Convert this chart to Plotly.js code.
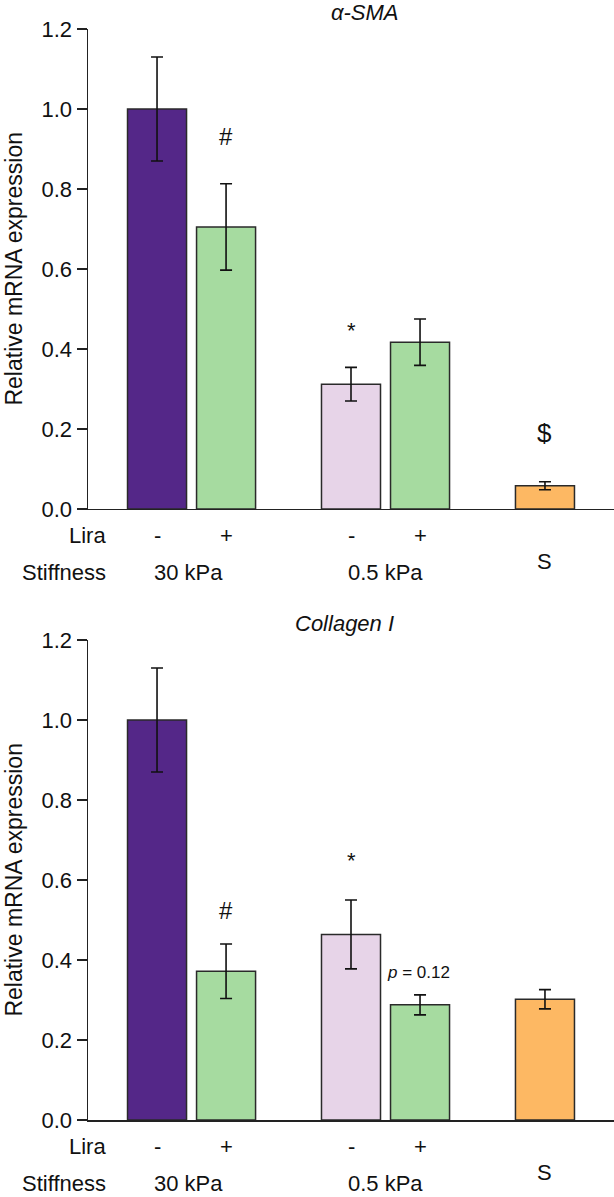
<!DOCTYPE html>
<html>
<head>
<meta charset="utf-8">
<script src="https://cdn.plot.ly/plotly-3.0.1.min.js"></script>
<style>
  body { margin: 0; background: #fff; }
  #myDiv { width: 614px; height: 1197px; }
</style>
</head>
<body>
<div id="myDiv"></div>
<script>
// ---------------------- DATA ----------------------
var groups = ['30 kPa -', '30 kPa +', '0.5 kPa -', '0.5 kPa +', 'S'];
var liraSigns = ['-', '+', '-', '+', ''];
var stiffnessLabels = ['30 kPa', '0.5 kPa', 'S'];

var smaValues = [1.0, 0.705, 0.312, 0.417, 0.058];
var smaErrors = [0.13, 0.108, 0.042, 0.058, 0.01];

var colValues = [1.0, 0.372, 0.464, 0.288, 0.302];
var colErrors = [0.13, 0.068, 0.086, 0.025, 0.024];

var barColors = ['#542788', '#a6dba0', '#e7d4e8', '#a6dba0', '#fdb863'];

// bar centres on a numeric x axis (layout only)
var barPos = [1, 2, 3.81, 4.81, 6.62];
var font = 'Liberation Sans, Arial, sans-serif';

function barTrace(values, errors, xa, ya){
  return {
    type: 'bar',
    x: barPos,
    y: values,
    hovertext: groups,
    hoverinfo: 'text+y',
    width: 0.855,
    xaxis: xa,
    yaxis: ya,
    showlegend: false,
    marker: {
      color: barColors,
      line: {color: '#2a2a2a', width: 1.5}
    },
    error_y: {
      type: 'data',
      array: errors,
      visible: true,
      color: '#111111',
      thickness: 1.6,
      width: 6
    }
  };
}

function yAxis(domain, anchor){
  return {
    domain: domain,
    anchor: anchor,
    range: [0, 1.2],
    dtick: 0.2,
    tickformat: '.1f',
    ticks: 'outside',
    ticklen: 10,
    tickwidth: 1.5,
    tickcolor: '#222',
    showline: true,
    linecolor: '#222',
    linewidth: 1.5,
    showgrid: false,
    zeroline: false,
    tickfont: {family: font, size: 22, color: '#111'},
    fixedrange: true
  };
}

function xAxis(anchor){
  return {
    anchor: anchor,
    range: [0, 7.62],
    showline: true,
    linecolor: '#222',
    linewidth: 1.5,
    showticklabels: false,
    ticks: '',
    showgrid: false,
    zeroline: false,
    fixedrange: true
  };
}

// annotations for one panel (rows below the axis use domain fractions)
function panelNotes(xr, yr, title, titleX, marks){
  var notes = [];
  var f = {family: font, size: 22, color: '#111'};
  var yd = yr + ' domain';
  var liraY = -0.056, stiffY = -0.133, sY = -0.109;
  for (var i = 0; i < liraSigns.length; i++) {
    if (!liraSigns[i]) continue;
    notes.push({xref: xr, yref: yd, x: barPos[i], y: liraY, text: liraSigns[i],
      showarrow: false, font: f, xanchor: 'center', yanchor: 'middle'});
  }
  notes.push({xref: xr + ' domain', yref: yd, x: 0.038, y: liraY, text: 'Lira',
    showarrow: false, font: f, xanchor: 'right', yanchor: 'middle'});
  notes.push({xref: xr + ' domain', yref: yd, x: 0.038, y: stiffY, text: 'Stiffness',
    showarrow: false, font: f, xanchor: 'right', yanchor: 'middle'});
  notes.push({xref: xr, yref: yd, x: (barPos[0] + barPos[1]) / 2 - 0.05, y: stiffY, text: stiffnessLabels[0],
    showarrow: false, font: f, xanchor: 'center', yanchor: 'middle'});
  notes.push({xref: xr, yref: yd, x: (barPos[2] + barPos[3]) / 2, y: stiffY, text: stiffnessLabels[1],
    showarrow: false, font: f, xanchor: 'center', yanchor: 'middle'});
  notes.push({xref: xr, yref: yd, x: barPos[4], y: sY, text: stiffnessLabels[2],
    showarrow: false, font: f, xanchor: 'center', yanchor: 'middle'});
  // y title
  notes.push({xref: xr + ' domain', yref: yd, x: -0.1415, y: 0.5,
    text: 'Relative mRNA expression', textangle: -90, showarrow: false,
    font: {family: font, size: 23, color: '#111'}, xanchor: 'center', yanchor: 'middle'});
  // panel title
  notes.push({xref: 'paper', yref: yd, x: titleX, y: 1.035, text: '<i>' + title + '</i>',
    showarrow: false, font: {family: font, size: 22, color: '#111'}, xanchor: 'center', yanchor: 'middle'});
  // significance marks
  marks.forEach(function(m){
    notes.push({xref: xr, yref: yr, x: barPos[m[0]] + (m[3] || 0), y: m[1], text: m[2],
      showarrow: false, font: {family: font, size: m[4] || 24, color: '#111'},
      xanchor: 'center', yanchor: 'middle'});
  });
  return notes;
}

var annotations = []
  .concat(panelNotes('x', 'y', '\u03b1-SMA', 0.526,
    [[1, 0.93, '#'], [2, 0.445, '*', 0, 22], [4, 0.19, '$', 0, 26]]))
  .concat(panelNotes('x2', 'y2', 'Collagen I', 0.487,
    [[1, 0.525, '#'], [2, 0.65, '*', 0, 22], [3, 0.37, '<i>p</i> = 0.12', -0.02, 17]]));

var data = [
  barTrace(smaValues, smaErrors, 'x', 'y'),
  barTrace(colValues, colErrors, 'x2', 'y2')
];

var layout = {
  width: 614,
  height: 1197,
  margin: {l: 88, r: 0, t: 0, b: 0},
  paper_bgcolor: '#ffffff',
  plot_bgcolor: '#ffffff',
  font: {family: font, color: '#111'},
  xaxis: xAxis('y'),
  yaxis: yAxis([0.5748, 0.9758], 'x'),
  xaxis2: xAxis('y2'),
  yaxis2: yAxis([0.0643, 0.4653], 'x2'),
  annotations: annotations,
  bargap: 0
};

Plotly.newPlot('myDiv', data, layout, {displayModeBar: false, staticPlot: true});
</script>
</body>
</html>
